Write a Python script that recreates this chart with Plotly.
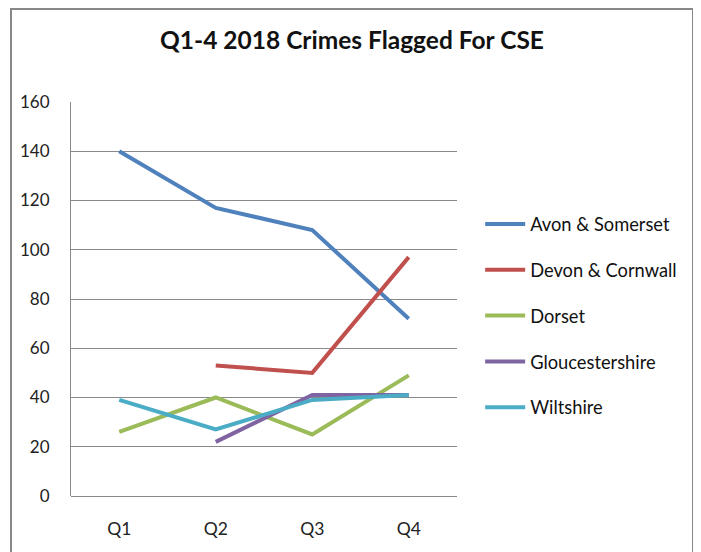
import plotly.graph_objects as go

quarters = ["Q1", "Q2", "Q3", "Q4"]
avon = [140, 117, 108, 72]
devon = [None, 53, 50, 97]
dorset = [26, 40, 25, 49]
glouc = [None, 22, 41, 41]
wilts = [39, 27, 39, 41]

series = [
    ("Avon & Somerset", avon, "#4F81BD"),
    ("Devon & Cornwall", devon, "#C0504D"),
    ("Dorset", dorset, "#9BBB59"),
    ("Gloucestershire", glouc, "#8064A2"),
    ("Wiltshire", wilts, "#4BACC6"),
]

FONT = "Lato"

fig = go.Figure()
for i, (name, vals, col) in enumerate(series):
    fig.add_trace(go.Scatter(
        x=quarters, y=vals, name=name, mode="lines",
        line=dict(color=col, width=4),
        legendgroup=f"g{i}",
    ))

W, H = 693, 544
fig.update_layout(
    width=W, height=H,
    margin=dict(l=63, r=244, t=94, b=56),
    paper_bgcolor="white", plot_bgcolor="white",
    font=dict(family=FONT, color="#222222"),
    title=dict(text="<b>Q1-4 2018 Crimes Flagged For CSE</b>",
               x=344/W, xanchor="center", y=1-32/H, yanchor="middle",
               font=dict(size=24.5, family=FONT, color="#111111")),
    xaxis=dict(range=[-0.5, 3.5], showgrid=False, showline=False,
               ticks="", ticklabelstandoff=20,
               tickfont=dict(size=17.5, family=FONT, color="#222222")),
    yaxis=dict(range=[0, 160], dtick=20, showgrid=True, gridcolor="#8a8a8a",
               gridwidth=1, showline=True, linecolor="#8a8a8a", linewidth=1,
               zeroline=True, zerolinecolor="#8a8a8a", zerolinewidth=1,
               ticks="", ticklabelstandoff=17,
               tickfont=dict(size=17, family=FONT, color="#222222")),
    legend=dict(x=1.06, xanchor="left", y=0.737, yanchor="top",
                traceorder="grouped", tracegroupgap=19, itemwidth=40,
                font=dict(size=18.3, family=FONT, color="#111111"),
                bgcolor="rgba(0,0,0,0)"),
    showlegend=True,
)

fig.add_shape(type="rect", xref="paper", yref="paper",
              x0=-60/386, x1=622/386, y0=-0.2, y1=487/394,
              line=dict(color="#888888", width=2), layer="below")

fig.write_html("out.html")
